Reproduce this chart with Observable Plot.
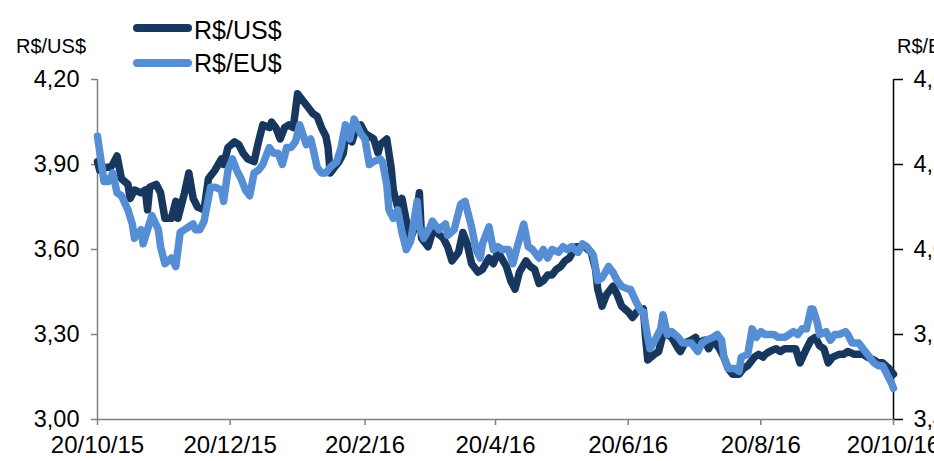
<!DOCTYPE html>
<html>
<head>
<meta charset="utf-8">
<script src="https://cdn.jsdelivr.net/npm/d3@7"></script>
<script src="https://cdn.jsdelivr.net/npm/@observablehq/plot@0.6"></script>
<style>
  html, body { margin: 0; padding: 0; overflow: hidden; background: #fff; }
  #wrap { position: relative; width: 934px; height: 461px; font-family: "Liberation Sans", Arial, sans-serif; }
  #wrap svg { position: absolute; left: 0; top: 0; }
  .lbl { position: absolute; white-space: nowrap; color: #000; line-height: 1; }
  .key { position: absolute; height: 8px; border-radius: 4px; }
</style>
</head>
<body>
<div id="wrap"></div>
<script>
// ---- data ----
const seriesNames = ["R$/US$", "R$/EU$"];
const seriesColors = ["#17375E", "#558ED5"];
const leftAxisTitle = "R$/US$";
const rightAxisTitle = "R$/EU$";
const leftTicks = [3.00, 3.30, 3.60, 3.90, 4.20];
const rightTicks = [3.40, 3.70, 4.00, 4.30, 4.60];
const eurOffset = 0.40; // right axis = left axis + 0.40
const xTicks = ["2015-10-20","2015-12-20","2016-02-20","2016-04-20","2016-06-20","2016-08-20","2016-10-20"];

const usdDates = [
"2015-10-20","2015-10-21","2015-10-24","2015-10-26","2015-10-27","2015-10-29","2015-10-31","2015-11-03","2015-11-04","2015-11-06",
"2015-11-09","2015-11-11","2015-11-12","2015-11-13","2015-11-16","2015-11-18","2015-11-20","2015-11-23","2015-11-25","2015-11-26",
"2015-11-29","2015-12-01","2015-12-03","2015-12-05","2015-12-08","2015-12-10","2015-12-13","2015-12-16","2015-12-17","2015-12-19",
"2015-12-22","2015-12-24","2015-12-26","2015-12-28","2015-12-31","2016-01-02","2016-01-04","2016-01-07","2016-01-08","2016-01-10",
"2016-01-12","2016-01-14","2016-01-16","2016-01-18","2016-01-20","2016-01-23","2016-01-25","2016-01-27","2016-01-29","2016-01-31",
"2016-02-02","2016-02-03","2016-02-04","2016-02-06","2016-02-08","2016-02-10","2016-02-11","2016-02-14","2016-02-16","2016-02-18",
"2016-02-20","2016-02-22","2016-02-24","2016-02-26","2016-02-27","2016-03-01","2016-03-03","2016-03-04","2016-03-06","2016-03-08",
"2016-03-10","2016-03-12","2016-03-14","2016-03-16","2016-03-17","2016-03-20","2016-03-22","2016-03-24","2016-03-27","2016-03-29",
"2016-03-31","2016-04-03","2016-04-05","2016-04-07","2016-04-09","2016-04-12","2016-04-14","2016-04-17","2016-04-19","2016-04-21",
"2016-04-22","2016-04-25","2016-04-27","2016-04-29","2016-05-01","2016-05-04","2016-05-06","2016-05-08","2016-05-10","2016-05-12",
"2016-05-14","2016-05-16","2016-05-18","2016-05-20","2016-05-22","2016-05-24","2016-05-27","2016-05-29","2016-05-31","2016-06-03",
"2016-06-05","2016-06-06","2016-06-08","2016-06-10","2016-06-13","2016-06-15","2016-06-17","2016-06-20","2016-06-22","2016-06-24",
"2016-06-27","2016-06-28","2016-06-29","2016-07-02","2016-07-04","2016-07-06","2016-07-08","2016-07-10","2016-07-13","2016-07-14",
"2016-07-16","2016-07-19","2016-07-21","2016-07-22","2016-07-25","2016-07-27","2016-07-29","2016-08-01","2016-08-03","2016-08-05",
"2016-08-07","2016-08-10","2016-08-12","2016-08-14","2016-08-17","2016-08-19","2016-08-21","2016-08-22","2016-08-24","2016-08-27",
"2016-08-29","2016-08-31","2016-09-03","2016-09-05","2016-09-07","2016-09-10","2016-09-12","2016-09-14","2016-09-16","2016-09-18",
"2016-09-20","2016-09-22","2016-09-25","2016-09-27","2016-09-29","2016-10-02","2016-10-04","2016-10-06","2016-10-08","2016-10-11",
"2016-10-13","2016-10-15","2016-10-18","2016-10-20"];
const usdValues = [
3.91,3.88,3.89,3.89,3.90,3.93,3.85,3.83,3.78,3.81,
3.80,3.81,3.74,3.82,3.83,3.80,3.71,3.71,3.77,3.71,
3.80,3.87,3.78,3.75,3.74,3.85,3.88,3.92,3.90,3.96,
3.98,3.97,3.94,3.92,3.91,3.98,4.04,4.03,4.05,4.03,
3.99,4.03,4.04,4.03,4.15,4.12,4.10,4.08,4.07,4.03,
4.00,3.96,3.87,3.89,3.91,3.94,4.00,3.98,4.03,4.04,
4.01,4.00,3.99,3.94,3.97,3.99,3.89,3.81,3.75,3.78,
3.70,3.64,3.68,3.80,3.64,3.61,3.66,3.66,3.64,3.61,
3.56,3.59,3.66,3.62,3.55,3.52,3.53,3.57,3.55,3.59,
3.58,3.54,3.49,3.46,3.52,3.56,3.54,3.53,3.48,3.49,
3.51,3.51,3.53,3.54,3.56,3.57,3.61,3.61,3.61,3.59,
3.53,3.46,3.40,3.44,3.47,3.44,3.40,3.38,3.36,3.38,
3.39,3.29,3.21,3.23,3.24,3.30,3.30,3.29,3.25,3.24,
3.27,3.28,3.29,3.27,3.28,3.25,3.28,3.25,3.22,3.18,
3.16,3.16,3.18,3.19,3.22,3.23,3.22,3.23,3.24,3.25,
3.24,3.25,3.25,3.25,3.20,3.25,3.28,3.29,3.26,3.25,
3.20,3.22,3.23,3.23,3.24,3.23,3.23,3.23,3.22,3.21,
3.20,3.20,3.18,3.16];

const eurDates = [
"2015-10-20","2015-10-23","2015-10-25","2015-10-27","2015-10-29","2015-10-31","2015-11-03","2015-11-05","2015-11-06","2015-11-09",
"2015-11-10","2015-11-12","2015-11-14","2015-11-17","2015-11-18","2015-11-20","2015-11-23","2015-11-25","2015-11-27","2015-11-29",
"2015-12-03","2015-12-04","2015-12-06","2015-12-08","2015-12-11","2015-12-13","2015-12-16","2015-12-17","2015-12-19","2015-12-21",
"2015-12-23","2015-12-25","2015-12-27","2015-12-29","2015-12-31","2016-01-02","2016-01-04","2016-01-07","2016-01-09","2016-01-11",
"2016-01-13","2016-01-15","2016-01-17","2016-01-19","2016-01-21","2016-01-24","2016-01-26","2016-01-27","2016-01-29","2016-01-31",
"2016-02-02","2016-02-04","2016-02-07","2016-02-09","2016-02-11","2016-02-13","2016-02-15","2016-02-18","2016-02-20","2016-02-22",
"2016-02-24","2016-02-27","2016-02-28","2016-03-01","2016-03-02","2016-03-04","2016-03-06","2016-03-08","2016-03-10","2016-03-12",
"2016-03-15","2016-03-16","2016-03-18","2016-03-21","2016-03-22","2016-03-25","2016-03-28","2016-03-29","2016-04-01","2016-04-04",
"2016-04-06","2016-04-09","2016-04-11","2016-04-13","2016-04-14","2016-04-17","2016-04-19","2016-04-21","2016-04-23","2016-04-26",
"2016-04-28","2016-04-30","2016-05-03","2016-05-05","2016-05-07","2016-05-10","2016-05-12","2016-05-14","2016-05-16","2016-05-19",
"2016-05-21","2016-05-23","2016-05-25","2016-05-28","2016-05-30","2016-06-01","2016-06-04","2016-06-06","2016-06-08","2016-06-11",
"2016-06-13","2016-06-15","2016-06-17","2016-06-20","2016-06-21","2016-06-24","2016-06-26","2016-06-27","2016-06-29","2016-06-30",
"2016-07-03","2016-07-05","2016-07-06","2016-07-08","2016-07-10","2016-07-13","2016-07-15","2016-07-17","2016-07-19","2016-07-22",
"2016-07-24","2016-07-26","2016-07-29","2016-07-31","2016-08-02","2016-08-03","2016-08-05","2016-08-08","2016-08-10","2016-08-11",
"2016-08-14","2016-08-16","2016-08-18","2016-08-20","2016-08-22","2016-08-24","2016-08-26","2016-08-28","2016-08-31","2016-09-02",
"2016-09-04","2016-09-06","2016-09-08","2016-09-10","2016-09-12","2016-09-13","2016-09-15","2016-09-16","2016-09-19","2016-09-21",
"2016-09-23","2016-09-25","2016-09-28","2016-09-29","2016-10-01","2016-10-04","2016-10-06","2016-10-08","2016-10-11","2016-10-13",
"2016-10-15","2016-10-17","2016-10-19","2016-10-20"];
const eurValues = [
4.40,4.24,4.24,4.27,4.20,4.19,4.14,4.09,4.04,4.07,
4.02,4.07,4.12,4.07,4.01,3.95,3.97,3.94,4.06,4.07,
4.09,4.07,4.07,4.10,4.22,4.22,4.21,4.17,4.28,4.32,
4.28,4.25,4.21,4.19,4.27,4.28,4.30,4.36,4.34,4.34,
4.30,4.36,4.36,4.38,4.44,4.37,4.39,4.36,4.29,4.27,
4.27,4.29,4.31,4.36,4.44,4.39,4.46,4.41,4.39,4.30,
4.31,4.32,4.31,4.23,4.14,4.11,4.14,4.06,4.00,4.03,
4.17,4.08,4.04,4.08,4.10,4.07,4.09,4.05,4.07,4.16,
4.17,4.08,4.00,3.97,4.02,4.08,4.00,4.01,4.00,4.00,
3.95,4.01,4.09,4.01,4.00,3.97,4.00,3.97,4.00,3.99,
4.01,4.00,4.01,3.99,4.02,4.01,3.98,3.89,3.90,3.94,
3.92,3.89,3.87,3.86,3.86,3.81,3.78,3.78,3.69,3.65,
3.69,3.72,3.77,3.70,3.71,3.69,3.67,3.67,3.67,3.64,
3.67,3.68,3.69,3.70,3.68,3.62,3.58,3.58,3.57,3.62,
3.63,3.72,3.69,3.71,3.70,3.70,3.70,3.69,3.69,3.70,
3.71,3.70,3.72,3.72,3.79,3.79,3.74,3.70,3.71,3.68,
3.70,3.70,3.71,3.70,3.67,3.67,3.65,3.63,3.60,3.59,
3.59,3.56,3.53,3.51];

// ---- build ----
const fmt = v => v.toFixed(2).replace(".", ",");
const dateFmt = d => `${d.getUTCDate()}/${d.getUTCMonth() + 1}/${String(d.getUTCFullYear()).slice(2)}`;
const usd = usdDates.map((d, i) => ({date: new Date(d), value: usdValues[i]}));
const eur = eurDates.map((d, i) => ({date: new Date(d), value: eurValues[i]}));
const xDomain = [new Date(xTicks[0]), new Date(xTicks[xTicks.length - 1])];

const lineStyle = {strokeWidth: 7.5, strokeLinejoin: "round", strokeLinecap: "round"};

const chart = Plot.plot({
  width: 934,
  height: 461,
  marginLeft: 97,
  marginRight: 41,
  marginTop: 79,
  marginBottom: 42,
  style: {fontFamily: "'Liberation Sans', Arial, sans-serif", background: "transparent", color: "#000"},
  x: {type: "utc", domain: xDomain},
  y: {domain: [leftTicks[0], leftTicks[leftTicks.length - 1]]},
  marks: [
    Plot.ruleY([leftTicks[0]], {stroke: "#808080", strokeWidth: 1.5}),
    Plot.ruleX([xDomain[0]], {stroke: "#808080", strokeWidth: 1.5}),
    Plot.ruleX([xDomain[1]], {stroke: "#000", strokeWidth: 1.5}),
    Plot.axisY(leftTicks, {anchor: "left", tickSize: 6, tickPadding: 12, tickFormat: fmt, fontSize: 23.5,
      stroke: "#808080", strokeWidth: 1.5, fill: "#000", label: null}),
    Plot.axisY(rightTicks.map(v => +(v - eurOffset).toFixed(2)), {anchor: "right", tickSize: 9, tickPadding: 11,
      tickFormat: d => fmt(d + eurOffset), fontSize: 23.5, stroke: "#000", strokeWidth: 1.5, fill: "#000", label: null}),
    Plot.axisX(xTicks.map(d => new Date(d)), {anchor: "bottom", tickSize: 6, tickPadding: 10, tickFormat: dateFmt,
      fontSize: 24, stroke: "#808080", strokeWidth: 1.5, fill: "#000", label: null}),
    Plot.lineY(usd, {x: "date", y: "value", stroke: seriesColors[0], ...lineStyle}),
    Plot.lineY(eur, {x: "date", y: d => d.value - eurOffset, stroke: seriesColors[1], ...lineStyle})
  ]
});

const wrap = document.getElementById("wrap");
wrap.appendChild(chart);

function addLabel(text, left, top, size) {
  const el = document.createElement("div");
  el.className = "lbl";
  el.textContent = text;
  el.style.left = left + "px";
  el.style.top = top + "px";
  el.style.fontSize = size + "px";
  wrap.appendChild(el);
}
addLabel(leftAxisTitle, 16, 36, 20);
addLabel(rightAxisTitle, 897, 36, 20);

// legend
const keyTops = [24, 59];
const textTops = [18, 51];
seriesNames.forEach((name, i) => {
  const k = document.createElement("div");
  k.className = "key";
  k.style.left = "133px";
  k.style.top = keyTops[i] + "px";
  k.style.width = "59px";
  k.style.background = seriesColors[i];
  wrap.appendChild(k);
  addLabel(name, 194, textTops[i], 25);
});
</script>
</body>
</html>
